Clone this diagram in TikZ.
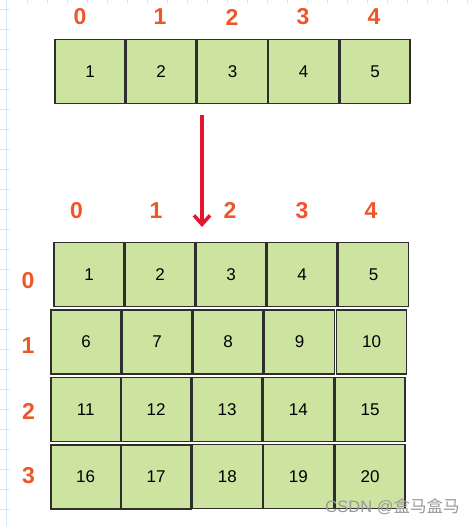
\documentclass[tikz,border=0pt]{standalone}
\usepackage{fontspec}
\setmainfont{Liberation Sans}
\newfontfamily\cjk{Noto Sans CJK SC}
\usetikzlibrary{arrows.meta}
\definecolor{cellgreen}{HTML}{CDE4A0}
\definecolor{cellline}{HTML}{2E2E2E}
\definecolor{idxred}{HTML}{EE5527}
\definecolor{arrowred}{HTML}{E5152D}
\definecolor{gridblue}{HTML}{CDEBFB}
\begin{document}
\begin{tikzpicture}[x=1pt, y=-1pt,
  cell/.style={draw=cellline, fill=cellgreen, line width=1.6pt, minimum width=70pt, minimum height=64pt, inner sep=0pt, font=\fontsize{17}{17}\selectfont},
  idx/.style={text=idxred, inner sep=0pt, font=\fontsize{23}{23}\selectfont\bfseries}
]
\useasboundingbox (0,0) rectangle (475,526);
% paper grid at the edges
\draw[gridblue, line width=1pt] (6.7,0) -- (6.7,526);
\foreach \y in {9.3,29.3,...,520} \draw[gridblue] (0,\y) -- (10,\y);
\foreach \x in {26.7,46.7,...,475} \draw[gridblue] (\x,0) -- (\x,3.3);
% one-dimensional array
\node[idx] (i0) at (80,17) {0};
\node[idx] (i1) at (160,17) {1};
\node[idx] (i2) at (232,17) {2};
\node[idx] (i3) at (303,17) {3};
\node[idx] (i4) at (374,17) {4};
\node[cell] (a0) at (90,71.5) {1};
\node[cell] (a1) at (161,71.5) {2};
\node[cell] (a2) at (232.5,71.5) {3};
\node[cell] (a3) at (303.5,71.5) {4};
\node[cell] (a4) at (375,71.5) {5};
% two-dimensional array
\node[idx] (c0) at (76.5,210.5) {0};
\node[idx] (c1) at (156,210.5) {1};
\node[idx] (c2) at (230,210.5) {2};
\node[idx] (c3) at (302,210.5) {3};
\node[idx] (c4) at (371,210.5) {4};
\node[idx] (r0) at (28,280.5) {0};
\node[idx] (r1) at (28,346) {1};
\node[idx] (r2) at (28.5,411) {2};
\node[idx] (r3) at (28.5,475.5) {3};
\node[cell] (b00) at (89,274.5) {1};
\node[cell] (b01) at (160,274.5) {2};
\node[cell] (b02) at (231,274.5) {3};
\node[cell] (b03) at (302,274.5) {4};
\node[cell] (b04) at (373.5,274.5) {5};
\node[cell] (b10) at (86,342) {6};
\node[cell] (b11) at (157,342) {7};
\node[cell] (b12) at (228,342) {8};
\node[cell] (b13) at (299.5,342) {9};
\node[cell] (b14) at (371.5,342) {10};
\node[cell] (b20) at (85.7,409.5) {11};
\node[cell] (b21) at (156.2,409.5) {12};
\node[cell] (b22) at (227,409.5) {13};
\node[cell] (b23) at (298.3,409.5) {14};
\node[cell] (b24) at (370,409.5) {15};
\node[cell] (b30) at (85.7,477) {16};
\node[cell] (b31) at (156.2,477) {17};
\node[cell] (b32) at (227.3,476.5) {18};
\node[cell] (b33) at (298.3,476.5) {19};
\node[cell] (b34) at (370,476.5) {20};
% reshaping arrow
\coordinate (from) at (202,115);
\coordinate (to) at (202,227);
\draw[arrowred, line width=3.5pt, -{Straight Barb[length=9pt, width=16pt]}] (from) -- (to);
\node[text=gray!80, inner sep=0pt, font=\fontsize{16.5}{16.5}\selectfont] (mark) at (392.5,507) {CSDN @{\cjk 盒马盒马}};
\end{tikzpicture}
\end{document}
